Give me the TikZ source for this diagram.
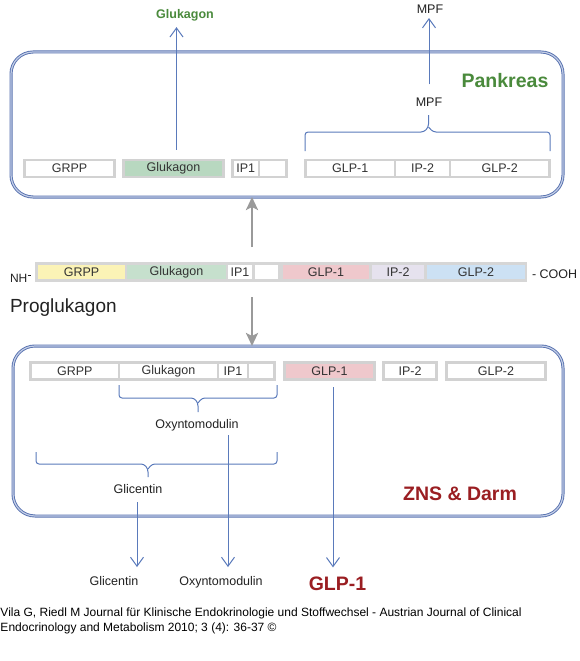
\documentclass[tikz,border=0pt]{standalone}
\usepackage{fontspec}
\setmainfont{Liberation Sans}
\usetikzlibrary{arrows.meta}
\definecolor{boxblue}{HTML}{5872B0}
\definecolor{boxlight}{HTML}{C2CDE6}
\definecolor{arrowblue}{HTML}{5A7ABB}
\definecolor{arrowgray}{HTML}{9A9A9A}
\definecolor{seggray}{HTML}{D2D2D2}
\definecolor{bargray}{HTML}{D6D6D6}
\definecolor{txtgray}{HTML}{333333}
\definecolor{txtdark}{HTML}{222222}
\definecolor{glugreen}{HTML}{B8D8C0}
\definecolor{txtgreen}{HTML}{4A8A3C}
\definecolor{darkred}{HTML}{9A1E22}
\definecolor{cyellow}{HTML}{FBF3B6}
\definecolor{cgreen}{HTML}{C6E0CD}
\definecolor{cpink}{HTML}{EFC8CC}
\definecolor{clav}{HTML}{E6E2EE}
\definecolor{cblue}{HTML}{CCE1F4}
\newcommand\myfs[1]{\fontsize{#1}{#1}\selectfont}
\begin{document}
\begin{tikzpicture}[x=1pt,y=-1pt,
  seg/.style={draw=seggray, line width=2.5pt, fill=white, inner sep=0pt, outer sep=0pt,
    minimum height=17pt, font=\myfs{12.5}, text=txtgray},
  barseg/.style={inner sep=0pt, outer sep=0pt, minimum height=14pt, font=\myfs{12.5}, text=txtgray},
  lbl/.style={inner sep=0pt, outer sep=0pt, font=\myfs{12.5}, text=txtdark, anchor=base},
  biglbl/.style={inner sep=0pt, outer sep=0pt, font=\bfseries\myfs{19.5}, anchor=base},
  barrow/.style={draw=arrowblue, line width=1pt, -{Straight Barb[length=9pt,width=13pt]}},
  garrow/.style={draw=arrowgray, line width=2.5pt, -{Stealth[length=13pt,width=12pt,inset=3pt]}},
  brace/.style={draw=arrowblue, line width=1pt, rounded corners=3pt},
  regionbox/.style={draw=boxblue, double=boxlight, double distance=1.2pt, line width=0.9pt,
    rounded corners=22pt, inner sep=0pt, outer sep=0pt}
]
\useasboundingbox[fill=white] (0,0) rectangle (580,661);

% ---------- Pankreas box ----------
\node[regionbox, minimum width=552pt, minimum height=145pt] (pank) at (287,124.5) {};
\node[seg, minimum width=90pt] (grpp1) at (69.5,168.5) {GRPP};
\node[seg, fill=glugreen, minimum width=100pt] (glu1) at (173.5,168.5) {Glukagon};
\node[seg, minimum width=26.5pt] (ip11) at (245.75,168.5) {IP1};
\node[seg, minimum width=27.5pt] (blk1) at (272.75,168.5) {};
\node[seg, minimum width=89.5pt] (glp11) at (350.25,168.5) {GLP-1};
\node[seg, minimum width=55pt] (ip21) at (422.5,168.5) {IP-2};
\node[seg, minimum width=99.5pt] (glp21) at (499.75,168.5) {GLP-2};

\node[biglbl, text=txtgreen] (pklbl) at (505,87.8) {Pankreas};
\node[lbl, font=\bfseries\myfs{12.5}, text=txtgreen] (glutop) at (185,18.5) {Glukagon};
\node[lbl] (mpf1) at (430,13.5) {MPF};
\node[lbl] (mpf2) at (429,106.5) {MPF};

\coordinate (gluA) at ([xshift=3pt,yshift=10.5pt]glu1.north);
\draw[barrow, shorten >=6pt] (gluA) -- (gluA |- glutop.south);
\draw[barrow, shorten <=13.5pt, shorten >=4.5pt] (mpf2.north) -- (mpf2.north |- mpf1.south);

\draw[brace] (305,151) -- (305,132) -- (424,132) -- (428.5,127) -- (428.5,115);
\draw[brace] (428.5,127) -- (433,132) -- (550,132) -- (550,151);

% ---------- Proglukagon bar ----------
\node[fill=bargray, inner sep=0pt, outer sep=0pt, minimum width=492pt, minimum height=20pt] (bar) at (281,272) {};
\node[barseg, fill=cyellow, minimum width=87pt] (grpp0) at (81.5,272) {GRPP};
\node[barseg, fill=cgreen, minimum width=99pt] (glu0) at (176.5,272) {Glukagon};
\node[barseg, fill=white, minimum width=24pt] (ip10) at (240,272) {IP1};
\node[barseg, fill=white, minimum width=23pt] (blk0) at (266.5,272) {};
\node[barseg, fill=cpink, minimum width=86pt] (glp10) at (326,272) {GLP-1};
\node[barseg, fill=clav, minimum width=52pt] (ip20) at (398,272) {IP-2};
\node[barseg, fill=cblue, minimum width=98pt] (glp20) at (476,272) {GLP-2};

\node[lbl, anchor=base west, font=\myfs{12}] (nh) at (10,282) {NH\kern0.6pt\rule[6.5pt]{3pt}{0.8pt}};
\node[lbl, anchor=base west] (cooh) at (532,278) {- COOH};
\node[lbl, anchor=base west, font=\myfs{19}] (prog) at (10,312) {Proglukagon};

% ---------- ZNS & Darm box ----------
\node[regionbox, minimum width=550pt, minimum height=170pt] (zns) at (288,431) {};
\node[seg, minimum width=88.5pt] (grpp2) at (74.75,371) {GRPP};
\node[seg, minimum width=99pt] (glu2) at (168.5,371) {Glukagon};
\node[seg, minimum width=30pt] (ip12) at (233,371) {IP1};
\node[seg, minimum width=26.5pt] (blk2) at (261.25,371) {};
\node[seg, fill=cpink, minimum width=90pt] (glp12) at (329.5,371) {GLP-1};
\node[seg, minimum width=53pt] (ip22) at (410,371) {IP-2};
\node[seg, minimum width=99pt] (glp22) at (496,371) {GLP-2};

\draw[brace] (119,385) -- (119,398) -- (194,398) -- (198,403) -- (198,412);
\draw[brace] (198,403) -- (202,398) -- (277,398) -- (277,385);
\draw[brace] (36,452) -- (36,464) -- (144,464) -- (148,469) -- (148,477);
\draw[brace] (148,469) -- (152,464) -- (277,464) -- (277,452);

\node[lbl] (oxy) at (197,428.5) {Oxyntomodulin};
\node[lbl] (glic) at (138,493.5) {Glicentin};
\node[biglbl, text=darkred] (znslbl) at (460,500.8) {ZNS \& Darm};

% ---------- outputs ----------
\node[lbl] (glicout) at (114,585.5) {Glicentin};
\node[lbl] (oxyout) at (221,585.5) {Oxyntomodulin};
\node[biglbl, text=darkred] (glpout) at (337.5,590) {GLP-1};

\coordinate (glicA) at ([xshift=-1pt,yshift=-8.5pt]glic.south);
\draw[barrow, shorten >=9.4pt] (glicA) -- (glicA |- glicout.north);
\coordinate (oxyA) at ([xshift=31pt,yshift=-4pt]oxy.south);
\draw[barrow, shorten >=9.4pt] (oxyA) -- (oxyA |- oxyout.north);
\coordinate (glpA) at ([xshift=3.5pt,yshift=-7.5pt]glp12.south);
\draw[barrow, shorten >=9pt] (glpA) -- (glpA |- glpout.north);

% ---------- gray processing arrows ----------
\coordinate (gup) at ([yshift=15pt]bar.north -| ip10.east);
\draw[garrow] (gup) -- (gup |- pank.south);
\coordinate (gdn) at ([yshift=-15pt]bar.south -| ip10.east);
\draw[garrow] (gdn) -- (gdn |- zns.north);

% ---------- citation ----------
\node[lbl, anchor=base west, font=\myfs{12}, text=black] (cit1) at (0.5,616)
  {Vila G, Riedl M Journal für Klinische Endokrinologie und Stoffwechsel - Austrian Journal of Clinical};
\node[lbl, anchor=base west, font=\myfs{12}, text=black] (cit2) at (0.5,631.7)
  {Endocrinology and Metabolism 2010; 3 (4): 36-37 ©};
\end{tikzpicture}
\end{document}
